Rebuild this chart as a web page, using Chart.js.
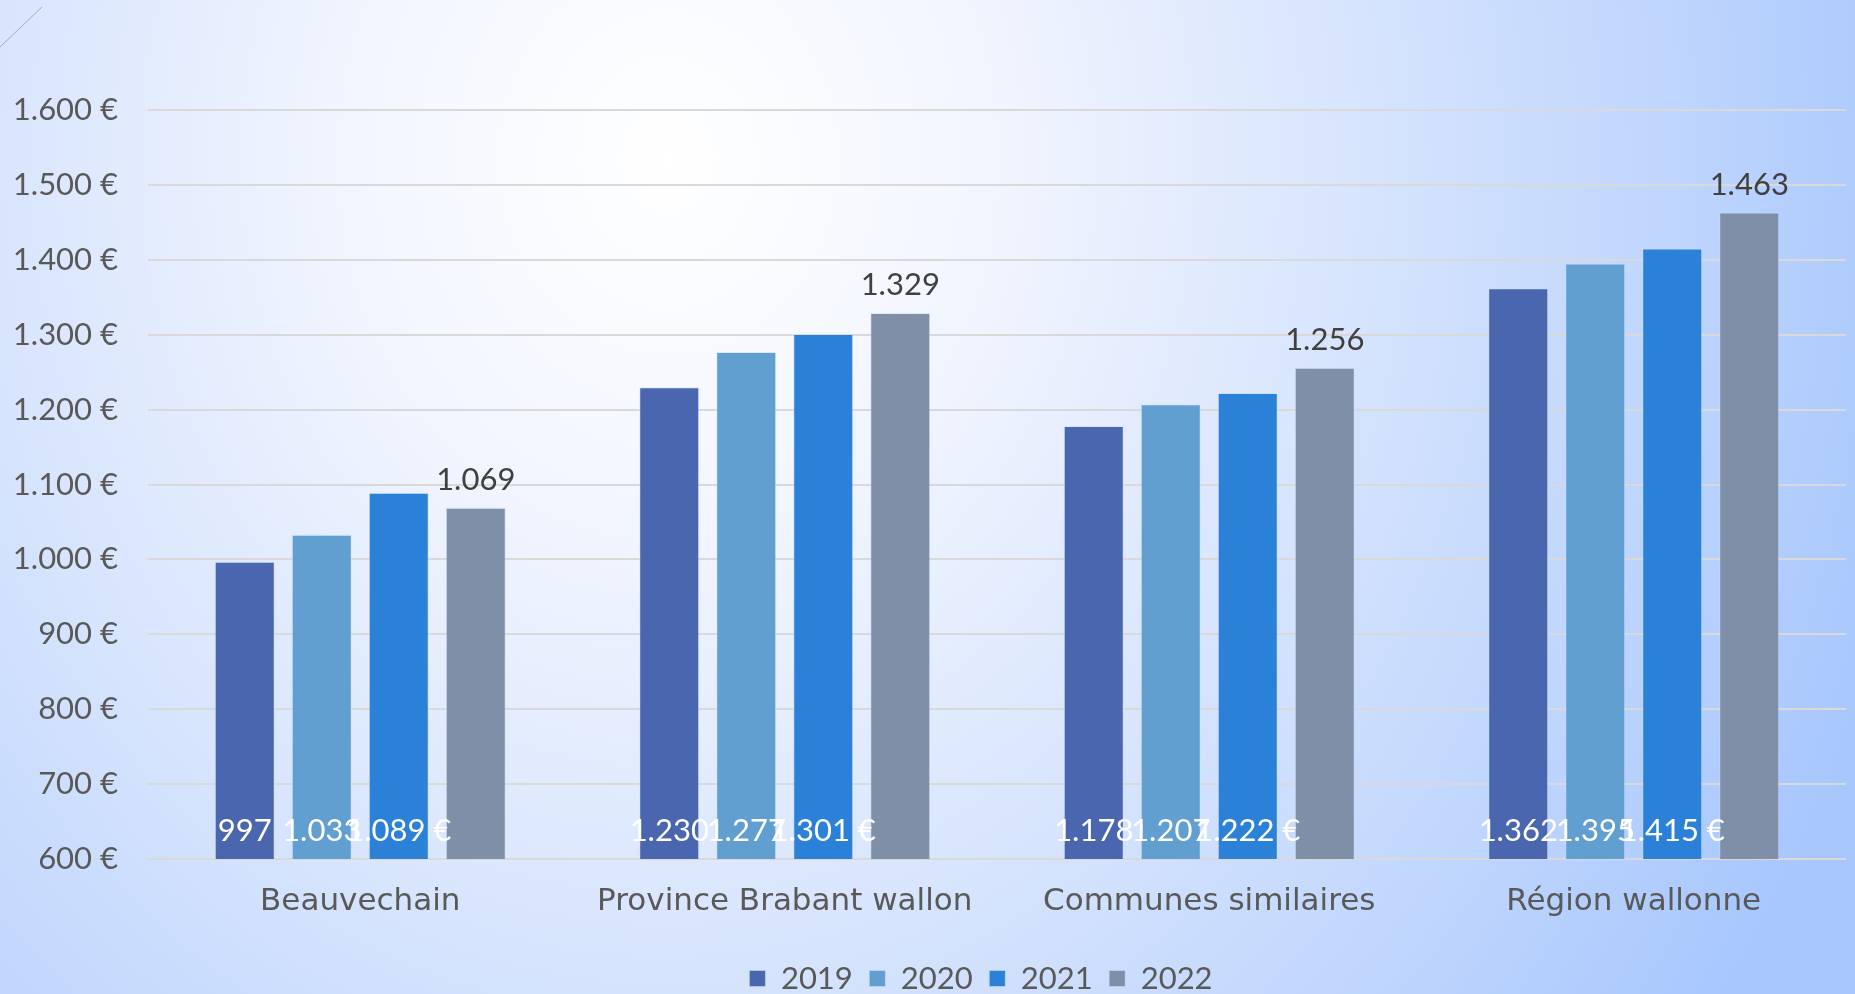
<!DOCTYPE html>
<html lang="fr">

<head>
    <meta charset="UTF-8">
    <title>Beauvechain</title>
    <script src="https://cdn.jsdelivr.net/npm/chart.js"></script>
    <style>
        html, body {
            margin: 0;
            padding: 0;
            width: 1855px;
            height: 994px;
            overflow: hidden;
        }

        body {
            background: radial-gradient(1300px 1500px at 36% 16%, #ffffff 0%, #f1f5fe 25%, #d8e5fd 52%, #bed5fd 78%, #a6c6fd 100%);
        }

        #contenedor {
            position: absolute;
            left: 0;
            top: 0;
        }
    </style>
</head>

<body>
    <div id="contenedor">
        <canvas id="canvas" width="1855" height="1004"></canvas>
    </div>

    <script>
        const categories = ['Beauvechain', 'Province Brabant wallon', 'Communes similaires', 'Région wallonne'];
        const annees = ['2019', '2020', '2021', '2022'];
        const val2019 = [997, 1230, 1178, 1362];
        const val2020 = [1033, 1277, 1207, 1395];
        const val2021 = [1089, 1301, 1222, 1415];
        const val2022 = [1069, 1329, 1256, 1463];
        const yMin = 600;
        const yMax = 1600;
        const yPas = 100;

        const couleurs = ['#4a66ae', '#629fd1', '#2b80d8', '#7f8fa8'];

        // 1463 -> "1.463"
        function Format(v) {
            if (v < 1000) return String(v)
            return Math.floor(v / 1000) + '.' + String(v % 1000).padStart(3, '0')
        }

        // etiquettes: 2019-2021 en blanc au pied des barres, 2022 au-dessus
        const etiquettes = {
            id: 'etiquettes',
            afterDatasetsDraw(chart) {
                const c = chart.ctx
                const bas = chart.chartArea.bottom
                c.save()
                c.textAlign = 'center'
                c.textBaseline = 'alphabetic'
                c.font = '31px Lato'
                chart.data.datasets.forEach((ds, i) => {
                    chart.getDatasetMeta(i).data.forEach((barre, j) => {
                        const v = ds.data[j]
                        if (i === 3) {
                            c.fillStyle = '#404040'
                            c.fillText(Format(v), barre.x, barre.y - 18)
                        } else {
                            c.fillStyle = '#ffffff'
                            c.fillText(Format(v) + (i === 2 ? ' €' : ''), barre.x, bas - 18)
                        }
                    })
                })
                c.restore()
            }
        }

        // petit trait du modele de diapo en haut a gauche
        const trait = {
            id: 'trait',
            beforeDraw(chart) {
                const c = chart.ctx
                c.save()
                c.strokeStyle = '#9ea9c8'
                c.lineWidth = 1
                c.beginPath()
                c.moveTo(0, 47)
                c.lineTo(42, 7)
                c.stroke()
                c.restore()
            }
        }

        // la legende est centree sous la zone de trace, pas sous tout le canvas
        const decalLegende = {
            id: 'decalLegende',
            afterLayout(chart) {
                const lg = chart.legend
                if (!lg) return
                const d = 53
                lg.left += d
                lg.right += d
            }
        }

        Chart.defaults.font.family = 'Lato'
        Chart.defaults.font.size = 31
        Chart.defaults.color = '#595959'

        const series = [val2019, val2020, val2021, val2022]
        const ctx = document.getElementById('canvas')
        const graph = new Chart(ctx, {
            type: 'bar',
            data: {
                labels: categories,
                datasets: annees.map((a, i) => ({
                    label: a,
                    data: series[i],
                    backgroundColor: couleurs[i],
                    borderColor: 'rgba(200,220,255,0.55)',
                    borderWidth: 1,
                    categoryPercentage: 0.7256,
                    barPercentage: 0.78
                }))
            },
            options: {
                responsive: false,
                animation: false,
                devicePixelRatio: 1,
                layout: {
                    padding: { left: 10, right: 9, top: 110, bottom: 0 }
                },
                plugins: {
                    tooltip: { enabled: false },
                    legend: {
                        position: 'bottom',
                        labels: {
                            boxWidth: 16,
                            boxHeight: 16,
                            padding: 16.5,
                            color: '#595959',
                            font: { size: 31 }
                        }
                    }
                },
                scales: {
                    x: {
                        grid: { display: false },
                        border: { display: false },
                        ticks: {
                            padding: 16,
                            color: '#595959',
                            font: { family: 'DejaVu Sans', size: 31 }
                        },
                        afterFit(scale) {
                            scale.height = 87.5
                        }
                    },
                    y: {
                        min: yMin,
                        max: yMax,
                        border: { display: false },
                        grid: {
                            color: '#d9d9d9',
                            lineWidth: 2,
                            drawTicks: false
                        },
                        ticks: {
                            stepSize: yPas,
                            padding: 30,
                            color: '#595959',
                            callback: v => Format(v) + ' €'
                        },
                        afterFit(scale) {
                            scale.width = 138
                        }
                    }
                }
            },
            plugins: [trait, decalLegende, etiquettes]
        });
    </script>

</body>

</html>
